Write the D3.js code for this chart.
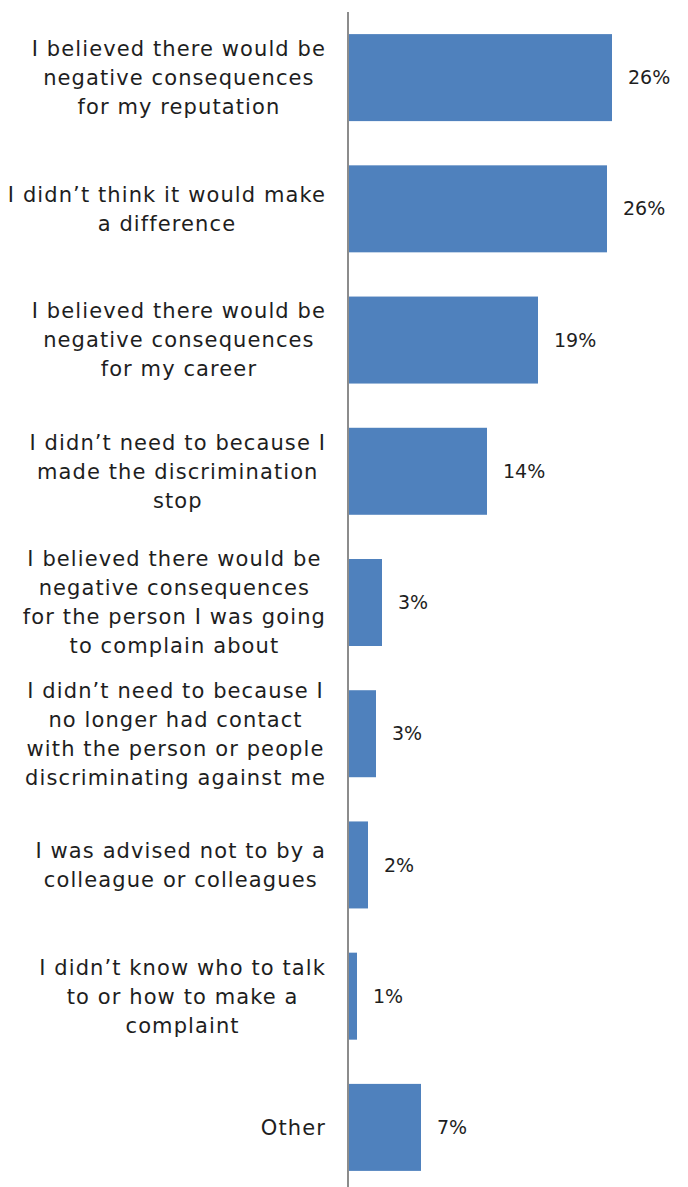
<!DOCTYPE html>
<html>
<head>
<meta charset="utf-8">
<script src="https://cdn.jsdelivr.net/npm/d3@7"></script>
<style>
  html, body { margin: 0; padding: 0; background: #fff; }
  svg { display: block; }
  text { font-family: "DejaVu Sans", sans-serif; fill: #1e1e1e; }
</style>
</head>
<body>
<svg id="chart" width="688" height="1187"></svg>
<script>
// Reasons given for not making a complaint (share of respondents, %)
const categories = [
  ["I believed there would be", "negative consequences", "for my reputation"],
  ["I didn\u2019t think it would make", "a difference"],
  ["I believed there would be", "negative consequences", "for my career"],
  ["I didn\u2019t need to because I", "made the discrimination", "stop"],
  ["I believed there would be", "negative consequences", "for the person I was going", "to complain about"],
  ["I didn\u2019t need to because I", "no longer had contact", "with the person or people", "discriminating against me"],
  ["I was advised not to by a", "colleague or colleagues"],
  ["I didn\u2019t know who to talk", "to or how to make a", "complaint"],
  ["Other"]
];
const values = [26.4, 25.9, 19.0, 13.9, 3.4, 2.8, 2.0, 0.9, 7.3];

const svg = d3.select("#chart");
const axisX = 348;
const labelRight = 326;
const fontSize = 21;
const lineH = 29;

const y = d3.scaleBand()
  .domain(d3.range(values.length))
  .range([12, 1193])
  .paddingInner(0.337)
  .paddingOuter(0.1685);

const x = d3.scaleLinear()
  .domain([0, 26.4])
  .range([axisX, 612]);

// bars
svg.append("g").selectAll("rect")
  .data(values)
  .join("rect")
  .attr("x", x(0))
  .attr("y", (d, i) => y(i))
  .attr("width", d => x(d) - x(0))
  .attr("height", y.bandwidth())
  .attr("fill", "#4f81bd");

// value labels
svg.append("g").selectAll("text")
  .data(values)
  .join("text")
  .attr("x", d => x(d) + 16)
  .attr("y", (d, i) => y(i) + y.bandwidth() / 2)
  .attr("dy", "0.35em")
  .attr("font-size", 19)
  .text(d => d3.format(".0f")(d) + "%");

// category labels: each block right-aligned, lines centred within the block
const lab = svg.append("g");
categories.forEach((lines, i) => {
  const g = lab.append("g");
  const cy = y(i) + y.bandwidth() / 2;
  const texts = lines.map((ln, k) => g.append("text")
    .attr("font-size", fontSize)
    .attr("letter-spacing", "1.1px")
    .attr("text-anchor", "middle")
    .attr("y", cy + (k - (lines.length - 1) / 2) * lineH)
    .attr("dy", "0.35em")
    .text(ln));
  const w = d3.max(texts, t => t.node().getComputedTextLength());
  texts.forEach(t => t.attr("x", labelRight - w / 2));
});

// vertical category axis line
svg.append("line")
  .attr("x1", axisX).attr("x2", axisX)
  .attr("y1", 12).attr("y2", 1187)
  .attr("stroke", "#8c8c8c")
  .attr("stroke-width", 2);
</script>
</body>
</html>
